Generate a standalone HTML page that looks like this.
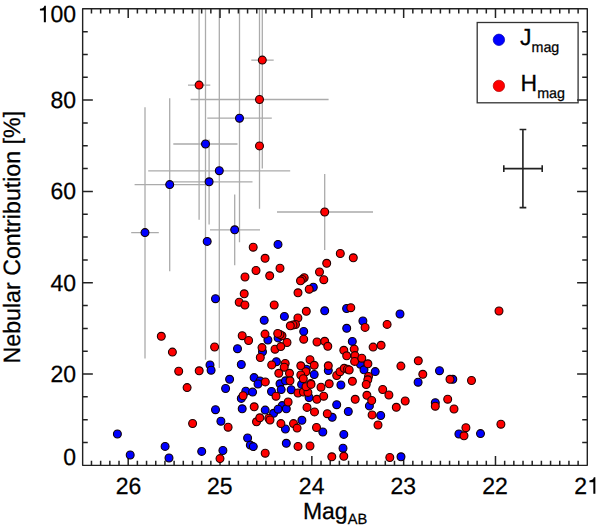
<!DOCTYPE html><html><head><meta charset="utf-8"><style>
html,body{margin:0;padding:0;background:#fff;}
#w{position:relative;width:600px;height:528px;overflow:hidden;background:#fff;}
#w svg{position:absolute;left:0;top:0;}
</style></head><body><div id="w">
<svg width="600" height="528" viewBox="0 0 600 528"><defs><clipPath id="c"><rect x="82.65" y="8.8" width="504.65" height="456.55"/></clipPath></defs><path clip-path="url(#c)" d="M262.3 8.8V168.6M199.1 8.8V219.8M259.5 8.8V208.8M239.5 8.8V242.2M205.5 8.8V359.7M219.3 8.8V368M169.7 98.2V271.3M209.1 139.4V224.5M145 107.2V358.6M234.7 194.4V265.2M324.7 174V250M251.3 60.1H273.7M188 85.1H210.3M190.6 99.5H328.6M207.3 118.2H271.8M173.3 144H237.5M148.2 170.8H290.2M134.6 184.6H206M171 181.8H252.5M131.2 232.6H158.8M210 229.8H260M277 212H373" stroke="#ababab" stroke-width="1.3" fill="none"/><rect x="82.65" y="8.8" width="504.65" height="456.55" fill="none" stroke="#222" stroke-width="1.4" stroke-linejoin="round"/><path d="M91.47 465.35v-4.7M91.47 8.8v4.7M100.65 465.35v-4.7M100.65 8.8v4.7M109.84 465.35v-4.7M109.84 8.8v4.7M119.02 465.35v-4.7M119.02 8.8v4.7M128.2 465.35v-9.3M128.2 8.8v9.3M137.38 465.35v-4.7M137.38 8.8v4.7M146.56 465.35v-4.7M146.56 8.8v4.7M155.75 465.35v-4.7M155.75 8.8v4.7M164.93 465.35v-4.7M164.93 8.8v4.7M174.11 465.35v-4.7M174.11 8.8v4.7M183.29 465.35v-4.7M183.29 8.8v4.7M192.47 465.35v-4.7M192.47 8.8v4.7M201.66 465.35v-4.7M201.66 8.8v4.7M210.84 465.35v-4.7M210.84 8.8v4.7M220.02 465.35v-9.3M220.02 8.8v9.3M229.2 465.35v-4.7M229.2 8.8v4.7M238.38 465.35v-4.7M238.38 8.8v4.7M247.57 465.35v-4.7M247.57 8.8v4.7M256.75 465.35v-4.7M256.75 8.8v4.7M265.93 465.35v-4.7M265.93 8.8v4.7M275.11 465.35v-4.7M275.11 8.8v4.7M284.29 465.35v-4.7M284.29 8.8v4.7M293.48 465.35v-4.7M293.48 8.8v4.7M302.66 465.35v-4.7M302.66 8.8v4.7M311.84 465.35v-9.3M311.84 8.8v9.3M321.02 465.35v-4.7M321.02 8.8v4.7M330.2 465.35v-4.7M330.2 8.8v4.7M339.39 465.35v-4.7M339.39 8.8v4.7M348.57 465.35v-4.7M348.57 8.8v4.7M357.75 465.35v-4.7M357.75 8.8v4.7M366.93 465.35v-4.7M366.93 8.8v4.7M376.11 465.35v-4.7M376.11 8.8v4.7M385.3 465.35v-4.7M385.3 8.8v4.7M394.48 465.35v-4.7M394.48 8.8v4.7M403.66 465.35v-9.3M403.66 8.8v9.3M412.84 465.35v-4.7M412.84 8.8v4.7M422.02 465.35v-4.7M422.02 8.8v4.7M431.21 465.35v-4.7M431.21 8.8v4.7M440.39 465.35v-4.7M440.39 8.8v4.7M449.57 465.35v-4.7M449.57 8.8v4.7M458.75 465.35v-4.7M458.75 8.8v4.7M467.93 465.35v-4.7M467.93 8.8v4.7M477.12 465.35v-4.7M477.12 8.8v4.7M486.3 465.35v-4.7M486.3 8.8v4.7M495.48 465.35v-9.3M495.48 8.8v9.3M504.66 465.35v-4.7M504.66 8.8v4.7M513.84 465.35v-4.7M513.84 8.8v4.7M523.03 465.35v-4.7M523.03 8.8v4.7M532.21 465.35v-4.7M532.21 8.8v4.7M541.39 465.35v-4.7M541.39 8.8v4.7M550.57 465.35v-4.7M550.57 8.8v4.7M559.75 465.35v-4.7M559.75 8.8v4.7M568.94 465.35v-4.7M568.94 8.8v4.7M578.12 465.35v-4.7M578.12 8.8v4.7M82.65 442.52h5.1M587.3 442.52h-5.1M82.65 419.7h5.1M587.3 419.7h-5.1M82.65 396.87h5.1M587.3 396.87h-5.1M82.65 374.04h10.2M587.3 374.04h-10.2M82.65 351.21h5.1M587.3 351.21h-5.1M82.65 328.38h5.1M587.3 328.38h-5.1M82.65 305.56h5.1M587.3 305.56h-5.1M82.65 282.73h10.2M587.3 282.73h-10.2M82.65 259.9h5.1M587.3 259.9h-5.1M82.65 237.08h5.1M587.3 237.08h-5.1M82.65 214.25h5.1M587.3 214.25h-5.1M82.65 191.42h10.2M587.3 191.42h-10.2M82.65 168.59h5.1M587.3 168.59h-5.1M82.65 145.77h5.1M587.3 145.77h-5.1M82.65 122.94h5.1M587.3 122.94h-5.1M82.65 100.11h10.2M587.3 100.11h-10.2M82.65 77.28h5.1M587.3 77.28h-5.1M82.65 54.46h5.1M587.3 54.46h-5.1M82.65 31.63h5.1M587.3 31.63h-5.1" stroke="#222" stroke-width="1.5" fill="none"/><g stroke="#100000" stroke-width="1.1" fill="#0000ff"><circle cx="239.5" cy="118.2" r="3.95"/><circle cx="205.5" cy="144" r="3.95"/><circle cx="219.3" cy="170.7" r="3.95"/><circle cx="169.7" cy="184.6" r="3.95"/><circle cx="209.1" cy="181.8" r="3.95"/><circle cx="145" cy="232.6" r="3.95"/><circle cx="234.7" cy="229.8" r="3.95"/><circle cx="207.2" cy="241.4" r="3.95"/><circle cx="278" cy="244.4" r="3.95"/><circle cx="215.5" cy="298.7" r="3.95"/><circle cx="264.2" cy="320.2" r="3.95"/><circle cx="284.4" cy="316.4" r="3.95"/><circle cx="267.9" cy="340" r="3.95"/><circle cx="278.1" cy="337.9" r="3.95"/><circle cx="237.5" cy="348.7" r="3.95"/><circle cx="262.5" cy="351.8" r="3.95"/><circle cx="210" cy="364.9" r="3.95"/><circle cx="211.1" cy="370.2" r="3.95"/><circle cx="241.3" cy="364.5" r="3.95"/><circle cx="276.4" cy="361.7" r="3.95"/><circle cx="229.6" cy="379.3" r="3.95"/><circle cx="254.1" cy="377.6" r="3.95"/><circle cx="260" cy="381" r="3.95"/><circle cx="280" cy="383.8" r="3.95"/><circle cx="285.5" cy="380.8" r="3.95"/><circle cx="313.3" cy="287.2" r="3.95"/><circle cx="324.7" cy="310.8" r="3.95"/><circle cx="346.6" cy="308.5" r="3.95"/><circle cx="303.7" cy="331.4" r="3.95"/><circle cx="346.7" cy="328.3" r="3.95"/><circle cx="362.9" cy="321" r="3.95"/><circle cx="352.3" cy="341.4" r="3.95"/><circle cx="360.4" cy="364.3" r="3.95"/><circle cx="364" cy="369.8" r="3.95"/><circle cx="375.2" cy="371.6" r="3.95"/><circle cx="328.3" cy="370.5" r="3.95"/><circle cx="306.3" cy="369.2" r="3.95"/><circle cx="314.2" cy="374.5" r="3.95"/><circle cx="340.9" cy="385" r="3.95"/><circle cx="400" cy="314" r="3.95"/><circle cx="439.5" cy="370.7" r="3.95"/><circle cx="418.1" cy="382.2" r="3.95"/><circle cx="452.8" cy="379.3" r="3.95"/><circle cx="435.3" cy="402.7" r="3.95"/><circle cx="380.7" cy="415.5" r="3.95"/><circle cx="458.9" cy="434" r="3.95"/><circle cx="480.5" cy="433.6" r="3.95"/><circle cx="401" cy="456.8" r="3.95"/><circle cx="281.2" cy="389.6" r="3.95"/><circle cx="291.2" cy="389.7" r="3.95"/><circle cx="301.6" cy="384.4" r="3.95"/><circle cx="309.1" cy="397.5" r="3.95"/><circle cx="282.2" cy="405.6" r="3.95"/><circle cx="286.3" cy="408.8" r="3.95"/><circle cx="336.7" cy="404.7" r="3.95"/><circle cx="369.4" cy="405.9" r="3.95"/><circle cx="348.3" cy="411.5" r="3.95"/><circle cx="332.2" cy="417.3" r="3.95"/><circle cx="301.9" cy="420.3" r="3.95"/><circle cx="285.4" cy="429" r="3.95"/><circle cx="322.8" cy="432" r="3.95"/><circle cx="343.8" cy="434.4" r="3.95"/><circle cx="286.3" cy="443.3" r="3.95"/><circle cx="343" cy="448.2" r="3.95"/><circle cx="225.6" cy="388.5" r="3.95"/><circle cx="258" cy="384" r="3.95"/><circle cx="245.8" cy="391.2" r="3.95"/><circle cx="252.6" cy="392.1" r="3.95"/><circle cx="241.3" cy="398.4" r="3.95"/><circle cx="271.5" cy="391.5" r="3.95"/><circle cx="215.5" cy="409.7" r="3.95"/><circle cx="242.2" cy="408.8" r="3.95"/><circle cx="265.2" cy="410.1" r="3.95"/><circle cx="273.6" cy="413.3" r="3.95"/><circle cx="278.1" cy="409.2" r="3.95"/><circle cx="220.9" cy="421.2" r="3.95"/><circle cx="247.6" cy="438" r="3.95"/><circle cx="250.3" cy="445.1" r="3.95"/><circle cx="253.3" cy="446.6" r="3.95"/><circle cx="201.7" cy="451.4" r="3.95"/><circle cx="222.9" cy="450.5" r="3.95"/><circle cx="117.4" cy="434" r="3.95"/><circle cx="130.2" cy="455" r="3.95"/><circle cx="165.1" cy="446.4" r="3.95"/><circle cx="169" cy="458" r="3.95"/></g><g stroke="#200000" stroke-width="1.1" fill="#ff0000"><circle cx="262.3" cy="60.1" r="3.95"/><circle cx="199.1" cy="85.1" r="3.95"/><circle cx="259.5" cy="99.5" r="3.95"/><circle cx="259.5" cy="145.9" r="3.95"/><circle cx="324.7" cy="212" r="3.95"/><circle cx="253.2" cy="247.2" r="3.95"/><circle cx="265.1" cy="258.3" r="3.95"/><circle cx="256" cy="270.5" r="3.95"/><circle cx="280" cy="268.2" r="3.95"/><circle cx="269.7" cy="275.8" r="3.95"/><circle cx="245" cy="277" r="3.95"/><circle cx="244.2" cy="293.8" r="3.95"/><circle cx="239.2" cy="302.2" r="3.95"/><circle cx="244.9" cy="305" r="3.95"/><circle cx="274.2" cy="305" r="3.95"/><circle cx="340.3" cy="253.5" r="3.95"/><circle cx="353.3" cy="257.8" r="3.95"/><circle cx="326.7" cy="263.3" r="3.95"/><circle cx="319.5" cy="272" r="3.95"/><circle cx="323.8" cy="279.7" r="3.95"/><circle cx="304.2" cy="277.7" r="3.95"/><circle cx="302.2" cy="279.4" r="3.95"/><circle cx="300.5" cy="280.8" r="3.95"/><circle cx="309.2" cy="289.2" r="3.95"/><circle cx="298" cy="292.8" r="3.95"/><circle cx="306.3" cy="311.3" r="3.95"/><circle cx="350.8" cy="307.7" r="3.95"/><circle cx="297.9" cy="318" r="3.95"/><circle cx="295.5" cy="324.5" r="3.95"/><circle cx="293" cy="325" r="3.95"/><circle cx="290.3" cy="325.8" r="3.95"/><circle cx="303.7" cy="339.2" r="3.95"/><circle cx="242.2" cy="335.7" r="3.95"/><circle cx="248.6" cy="340.5" r="3.95"/><circle cx="265" cy="334.1" r="3.95"/><circle cx="282" cy="335.8" r="3.95"/><circle cx="280" cy="334.6" r="3.95"/><circle cx="277.7" cy="333.4" r="3.95"/><circle cx="287" cy="342.5" r="3.95"/><circle cx="214.6" cy="347" r="3.95"/><circle cx="262" cy="347.6" r="3.95"/><circle cx="275" cy="349.2" r="3.95"/><circle cx="280.8" cy="346.6" r="3.95"/><circle cx="260.3" cy="357.5" r="3.95"/><circle cx="199.2" cy="370.8" r="3.95"/><circle cx="271.7" cy="364.9" r="3.95"/><circle cx="285.2" cy="363.4" r="3.95"/><circle cx="284.2" cy="367.2" r="3.95"/><circle cx="278.8" cy="373.3" r="3.95"/><circle cx="289.5" cy="373.3" r="3.95"/><circle cx="265.3" cy="381.9" r="3.95"/><circle cx="290" cy="380.8" r="3.95"/><circle cx="317" cy="342" r="3.95"/><circle cx="324.7" cy="341.3" r="3.95"/><circle cx="327.8" cy="346.3" r="3.95"/><circle cx="373.1" cy="347.1" r="3.95"/><circle cx="381.1" cy="345.3" r="3.95"/><circle cx="354.2" cy="349.1" r="3.95"/><circle cx="343.8" cy="350.3" r="3.95"/><circle cx="346.7" cy="355.8" r="3.95"/><circle cx="355" cy="355.6" r="3.95"/><circle cx="354.6" cy="361.4" r="3.95"/><circle cx="361.8" cy="358.2" r="3.95"/><circle cx="367.9" cy="363.8" r="3.95"/><circle cx="365.1" cy="327.4" r="3.95"/><circle cx="310" cy="359.7" r="3.95"/><circle cx="300.8" cy="365.8" r="3.95"/><circle cx="314.2" cy="365.3" r="3.95"/><circle cx="328.3" cy="365.8" r="3.95"/><circle cx="305.8" cy="371.7" r="3.95"/><circle cx="300.8" cy="375" r="3.95"/><circle cx="303.3" cy="378.7" r="3.95"/><circle cx="336.7" cy="375.5" r="3.95"/><circle cx="340" cy="371.7" r="3.95"/><circle cx="344.2" cy="368.3" r="3.95"/><circle cx="347.5" cy="369.2" r="3.95"/><circle cx="349.2" cy="370" r="3.95"/><circle cx="368.5" cy="376.5" r="3.95"/><circle cx="367.8" cy="379.8" r="3.95"/><circle cx="352.4" cy="381.3" r="3.95"/><circle cx="310.8" cy="383.4" r="3.95"/><circle cx="329.2" cy="383.8" r="3.95"/><circle cx="366.2" cy="384.5" r="3.95"/><circle cx="387.1" cy="324.4" r="3.95"/><circle cx="418.3" cy="360.8" r="3.95"/><circle cx="400.9" cy="366.1" r="3.95"/><circle cx="422.8" cy="374.3" r="3.95"/><circle cx="450" cy="379.3" r="3.95"/><circle cx="471.5" cy="380.5" r="3.95"/><circle cx="382.7" cy="389.5" r="3.95"/><circle cx="388.9" cy="395" r="3.95"/><circle cx="405.2" cy="401" r="3.95"/><circle cx="396.3" cy="407.3" r="3.95"/><circle cx="435.3" cy="406.2" r="3.95"/><circle cx="447.7" cy="399.2" r="3.95"/><circle cx="454" cy="409" r="3.95"/><circle cx="499" cy="311" r="3.95"/><circle cx="500.9" cy="424.2" r="3.95"/><circle cx="465.9" cy="427.7" r="3.95"/><circle cx="464" cy="435.8" r="3.95"/><circle cx="389.8" cy="457.5" r="3.95"/><circle cx="378" cy="425" r="3.95"/><circle cx="298" cy="393" r="3.95"/><circle cx="303.4" cy="392" r="3.95"/><circle cx="307.9" cy="392.4" r="3.95"/><circle cx="306" cy="386.7" r="3.95"/><circle cx="311" cy="384.4" r="3.95"/><circle cx="321" cy="387.2" r="3.95"/><circle cx="316.9" cy="399.3" r="3.95"/><circle cx="323.7" cy="396.2" r="3.95"/><circle cx="288.1" cy="402" r="3.95"/><circle cx="307" cy="407.4" r="3.95"/><circle cx="314.5" cy="411.9" r="3.95"/><circle cx="355.2" cy="399.3" r="3.95"/><circle cx="366.9" cy="395.3" r="3.95"/><circle cx="371.7" cy="400.5" r="3.95"/><circle cx="327.3" cy="413.7" r="3.95"/><circle cx="372.1" cy="414.9" r="3.95"/><circle cx="280.9" cy="423.6" r="3.95"/><circle cx="293.5" cy="423.6" r="3.95"/><circle cx="297.1" cy="428.1" r="3.95"/><circle cx="316.5" cy="427.5" r="3.95"/><circle cx="298" cy="446.4" r="3.95"/><circle cx="310" cy="446" r="3.95"/><circle cx="331.8" cy="456.8" r="3.95"/><circle cx="343.8" cy="456.3" r="3.95"/><circle cx="243.1" cy="395.7" r="3.95"/><circle cx="276" cy="396.2" r="3.95"/><circle cx="254.2" cy="406.8" r="3.95"/><circle cx="192.6" cy="423.5" r="3.95"/><circle cx="228.1" cy="427.2" r="3.95"/><circle cx="256.5" cy="421.8" r="3.95"/><circle cx="259.8" cy="417.8" r="3.95"/><circle cx="268.8" cy="418.2" r="3.95"/><circle cx="270" cy="420" r="3.95"/><circle cx="265.2" cy="453.2" r="3.95"/><circle cx="220" cy="458.6" r="3.95"/><circle cx="161.3" cy="336.3" r="3.95"/><circle cx="172.4" cy="352.1" r="3.95"/><circle cx="178.7" cy="371.2" r="3.95"/><circle cx="187.1" cy="387.6" r="3.95"/></g><rect x="477.2" y="22.5" width="100.9" height="80.3" fill="none" stroke="#333" stroke-width="1.3"/><circle cx="498.9" cy="39.8" r="5.7" fill="#0000ff" stroke="#0000b0" stroke-width="0.7"/><circle cx="498.9" cy="85.9" r="5.7" fill="#ff0000" stroke="#b00000" stroke-width="0.7"/><path d="M522.9 129.5V207.6M519.6 129.5H526.3M519.6 207.6H526.3M503.8 168.6H542.2M503.8 165.3V171.9M542.2 165.3V171.9" stroke="#222" stroke-width="1.6" fill="none"/><g font-family='&quot;Liberation Sans&quot;, sans-serif' font-size="23.0" fill="#000" stroke="#000" stroke-width="0.25" text-rendering="geometricPrecision"><path stroke="none" d="M271 0L359 0L359 703L294 703C276 625 228 581 101 571L101 494L271 494Z" transform="translate(37.62 22.2) scale(0.023 -0.02346)"/><text transform="translate(50.41 22.2) scale(1 1.02)">00</text><text text-anchor="end" transform="translate(76 107.7) scale(1 1.02)">80</text><text text-anchor="end" transform="translate(76 199.2) scale(1 1.02)">60</text><text text-anchor="end" transform="translate(76 290.6) scale(1 1.02)">40</text><text text-anchor="end" transform="translate(76 381.8) scale(1 1.02)">20</text><text text-anchor="end" transform="translate(76 465.1) scale(1 1.02)">0</text><text text-anchor="middle" transform="translate(128.45 493.8) scale(1 1.02)">26</text><text text-anchor="middle" transform="translate(219.75 493.8) scale(1 1.02)">25</text><text text-anchor="middle" transform="translate(311.65 493.8) scale(1 1.02)">24</text><text text-anchor="middle" transform="translate(403.3 493.8) scale(1 1.02)">23</text><text text-anchor="middle" transform="translate(495 493.8) scale(1 1.02)">22</text><text transform="translate(574.31 493.8) scale(1 1.02)">2</text><path stroke="none" d="M271 0L359 0L359 703L294 703C276 625 228 581 101 571L101 494L271 494Z" transform="translate(587.1 493.8) scale(0.023 -0.02346)"/><text transform="translate(302.9 518.6) scale(1 1.02)">Mag<tspan font-size="14.6" dy="5.6">AB</tspan></text><text text-anchor="middle" transform="translate(19.5 237.2) rotate(-90) scale(1 1.02)" font-size="23.2">Nebular Contribution [%]</text><text transform="translate(520 45.2) scale(1 1.02)">J<tspan font-size="14.3" dy="6.2">mag</tspan></text><text transform="translate(520.5 91.4) scale(1 1.02)">H<tspan font-size="14.3" dy="6.8">mag</tspan></text></g></svg>
</div></body></html>
